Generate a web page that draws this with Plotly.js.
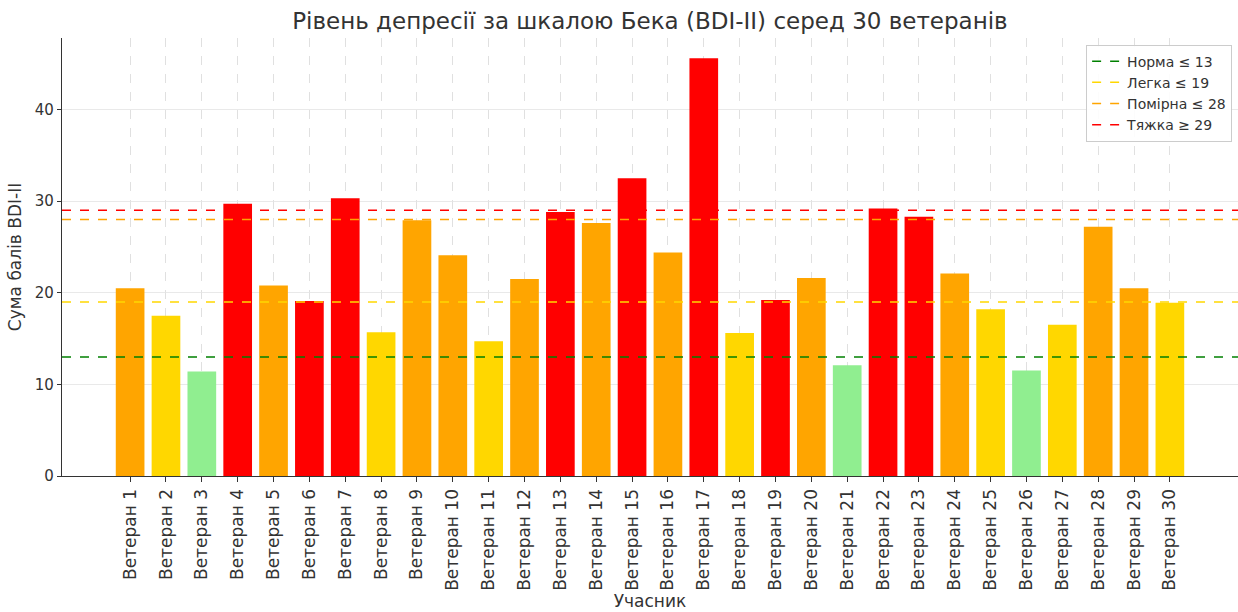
<!DOCTYPE html>
<html>
<head>
<meta charset="utf-8">
<script src="https://cdn.plot.ly/plotly-3.0.1.min.js"></script>
<style>html,body{margin:0;padding:0;background:#fff;}#chart{width:1238px;height:612px;}</style>
</head>
<body>
<div id="chart"></div>
<script>
const categories = ["Ветеран 1","Ветеран 2","Ветеран 3","Ветеран 4","Ветеран 5","Ветеран 6","Ветеран 7","Ветеран 8","Ветеран 9","Ветеран 10",
  "Ветеран 11","Ветеран 12","Ветеран 13","Ветеран 14","Ветеран 15","Ветеран 16","Ветеран 17","Ветеран 18","Ветеран 19","Ветеран 20",
  "Ветеран 21","Ветеран 22","Ветеран 23","Ветеран 24","Ветеран 25","Ветеран 26","Ветеран 27","Ветеран 28","Ветеран 29","Ветеран 30"];
const scores = [20.5, 17.5, 11.4, 29.7, 20.8, 19.1, 30.3, 15.7, 27.9, 24.1,
  14.7, 21.5, 28.8, 27.6, 32.5, 24.4, 45.6, 15.6, 19.2, 21.6,
  12.1, 29.2, 28.3, 22.1, 18.2, 11.5, 16.5, 27.2, 20.5, 18.9];
const barColors = ["#FFA500","#FFD700","#90EE90","#FF0000","#FFA500","#FF0000","#FF0000","#FFD700","#FFA500","#FFA500",
  "#FFD700","#FFA500","#FF0000","#FFA500","#FF0000","#FFA500","#FF0000","#FFD700","#FF0000","#FFA500",
  "#90EE90","#FF0000","#FF0000","#FFA500","#FFD700","#90EE90","#FFD700","#FFA500","#FFA500","#FFD700"];
const thresholdNames = ["Норма ≤ 13","Легка ≤ 19","Помірна ≤ 28","Тяжка ≥ 29"];
const thresholdValues = [13, 19, 28, 29];
const thresholdColors = ["green","gold","orange","red"];

const idx = categories.map((_, i) => i);

const traces = [{
  type: 'bar',
  x: idx,
  y: scores,
  width: 0.8,
  marker: {color: barColors, line: {width: 0}},
  showlegend: false,
  hoverinfo: 'y'
}];

const shapes = thresholdValues.map((v, i) => ({
  type: 'line', xref: 'x domain', yref: 'y',
  x0: 0, x1: 1, y0: v, y1: v,
  line: {color: thresholdColors[i], width: 1.5, dash: 'dash'},
  layer: 'above',
  showlegend: true,
  name: thresholdNames[i]
}));

const font = "DejaVu Sans, Verdana, sans-serif";
const layout = {
  width: 1238, height: 612,
  margin: {l: 62, r: 0, t: 38, b: 136},
  paper_bgcolor: '#fff', plot_bgcolor: '#fff',
  font: {family: font, color: '#333', size: 14},
  title: {text: "Рівень депресії за шкалою Бека (BDI-II) серед 30 ветеранів",
          font: {family: font, size: 23, color: '#333'}, x: 0.525, xanchor: 'center', y: 0.966, yanchor: 'middle'},
  xaxis: {
    range: [-1.9, 30.9],
    tickmode: 'array', tickvals: idx, ticktext: categories,
    tickangle: -90, tickfont: {size: 17, color: '#333'},
    ticks: 'outside', ticklen: 5, tickcolor: '#333',
    showline: true, linecolor: '#333', linewidth: 1.2,
    showgrid: true, gridcolor: '#d8d8d8', griddash: 'dash', gridwidth: 0.8,
    zeroline: false,
    title: {text: "Учасник", font: {size: 17, color: '#333'}, standoff: 2}
  },
  yaxis: {
    range: [0, 47.8],
    tickvals: [0, 10, 20, 30, 40],
    tickfont: {size: 15, color: '#333'},
    ticks: 'outside', ticklen: 4, tickcolor: '#333',
    showline: true, linecolor: '#333', linewidth: 1.2,
    showgrid: true, gridcolor: '#e3e3e3', gridwidth: 0.8,
    zeroline: false,
    title: {text: "Сума балів BDI-II", font: {size: 17, color: '#333'}, standoff: 8}
  },
  legend: {
    x: 0.995, xanchor: 'right', y: 0.985, yanchor: 'top',
    bgcolor: 'rgba(255,255,255,0.9)', bordercolor: '#cccccc', borderwidth: 1,
    font: {size: 14, color: '#333'},
    tracegroupgap: 0, itemwidth: 30
  },
  shapes: shapes
};

Plotly.newPlot('chart', traces, layout, {displayModeBar: false, staticPlot: true});
</script>
</body>
</html>
